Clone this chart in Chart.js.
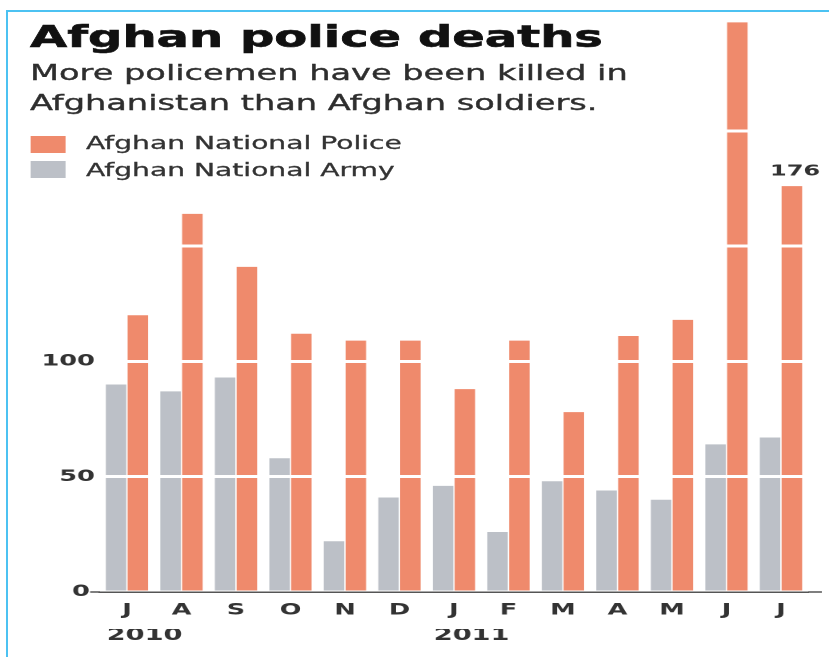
<!DOCTYPE html>
<html>
<head>
<meta charset="utf-8">
<script src="https://cdn.jsdelivr.net/npm/chart.js@4"></script>
<style>
  html, body { margin: 0; padding: 0; background: #fff; }
  body { width: 829px; height: 657px; overflow: hidden; position: relative; font-family: "DejaVu Sans", sans-serif; }
  #wrap { position: absolute; left: 0; top: 0; width: 518px; height: 657px; transform: scaleX(1.6004); transform-origin: 0 0; }
  #c { position: absolute; left: 0; top: 0; }
  .t { position: absolute; white-space: nowrap; }
  #title { left: 18.75px; top: 21.5px; font-size: 30px; line-height: 30px; font-weight: bold; color: #111; -webkit-text-stroke: 0.6px #111; }
  #sub { left: 18.75px; top: 57.7px; font-size: 21px; line-height: 30px; color: #2e2e2e; -webkit-text-stroke: 0.35px #2e2e2e; }
  .sw { position: absolute; left: 18.75px; width: 21.9px; height: 17px; }
  .lg { position: absolute; left: 53.75px; font-size: 17.6px; line-height: 20px; color: #333; -webkit-text-stroke: 0.3px #333; }
  #bt { position: absolute; left: 7px; top: 10px; width: 822px; height: 2px; background: #4cc2f2; }
  #bl { position: absolute; left: 6px; top: 10px; width: 2px; height: 647px; background: #4cc2f2; }
</style>
</head>
<body>
<div id="bt"></div>
<div id="bl"></div>
<div id="wrap">
  <canvas id="c" width="518" height="657"></canvas>
  <div class="t" id="title">Afghan police deaths</div>
  <div class="t" id="sub">More policemen have been killed in<br>Afghanistan than Afghan soldiers.</div>
  <div class="sw" style="top:136px;background:#ef8a6c"></div>
  <div class="lg" style="top:133px">Afghan National Police</div>
  <div class="sw" style="top:161px;background:#bcc0c7"></div>
  <div class="lg" style="top:160px">Afghan National Army</div>
</div>
<script>
const months = ['J','A','S','O','N','D','J','F','M','A','M','J','J'];
const years = ['2010','','','','','','2011','','','','','',''];
const police = [120, 164, 141, 112, 109, 109, 88, 109, 78, 111, 118, 247, 176];
const army = [90, 87, 93, 58, 22, 41, 46, 26, 48, 44, 40, 64, 67];
const yTicksShown = [0, 50, 100];

const POLICE_COLOR = '#ef8a6c';
const ARMY_COLOR = '#bcc0c7';
const AXIS_COLOR = '#555555';

const extras = {
  id: 'extras',
  afterDraw(chart) {
    const ctx = chart.ctx;
    const a = chart.chartArea;
    ctx.save();
    ctx.strokeStyle = AXIS_COLOR;
    ctx.lineWidth = 1.5;
    ctx.beginPath();
    ctx.moveTo(a.right, a.bottom);
    ctx.lineTo(chart.width - 4.5, a.bottom);
    ctx.stroke();
    const meta = chart.getDatasetMeta(1);
    const i = police.length - 1;
    const bar = meta.data[i];
    ctx.fillStyle = '#333';
    ctx.font = 'bold 15px "DejaVu Sans"';
    ctx.textAlign = 'center';
    ctx.textBaseline = 'bottom';
    ctx.fillText(String(police[i]), bar.x + 2, bar.y - 7);
    ctx.restore();
  }
};

new Chart(document.getElementById('c'), {
  type: 'bar',
  data: {
    labels: months,
    datasets: [
      { label: 'Afghan National Army', data: army, backgroundColor: ARMY_COLOR, borderWidth: 0 },
      { label: 'Afghan National Police', data: police, backgroundColor: POLICE_COLOR, borderWidth: 0 }
    ]
  },
  options: {
    responsive: false,
    animation: false,
    devicePixelRatio: 2,
    layout: { padding: { left: 0, right: 13, top: 15.5, bottom: 15 } },
    datasets: { bar: { categoryPercentage: 0.8, barPercentage: 0.94 } },
    plugins: { legend: { display: false }, tooltip: { enabled: false }, title: { display: false } },
    scales: {
      x: {
        type: 'category',
        offset: true,
        weight: 0,
        grid: { display: false, drawTicks: false },
        border: { display: true, color: AXIS_COLOR, width: 1.5, z: 2 },
        ticks: {
          autoSkip: false, maxRotation: 0, padding: 10.5, color: '#333',
          font: { family: 'DejaVu Sans', size: 16, weight: 'bold', lineHeight: 1 }
        }
      },
      x2: {
        type: 'category',
        labels: years,
        position: 'bottom',
        offset: true,
        weight: 1,
        grid: { display: false, drawTicks: false },
        border: { display: false },
        ticks: {
          autoSkip: false, maxRotation: 0, padding: -2, labelOffset: 11, color: '#333',
          font: { family: 'DejaVu Sans', size: 17, weight: 'bold', lineHeight: 1 }
        }
      },
      y: {
        min: 0,
        max: 250,
        afterFit(scale) { scale.width = 62.3; },
        border: { display: false },
        grid: {
          z: 1,
          color: c => (c.tick && c.tick.value === 0) ? 'rgba(0,0,0,0)' : '#ffffff',
          lineWidth: 3,
          drawTicks: true,
          tickLength: 6,
          tickWidth: 1.5,
          tickColor: c => (c.tick && c.tick.value === 0) ? AXIS_COLOR : 'rgba(0,0,0,0)'
        },
        ticks: {
          stepSize: 50,
          padding: -3,
          color: '#333',
          font: { family: 'DejaVu Sans', size: 16, weight: 'bold' },
          callback: v => yTicksShown.includes(v) ? (v === 0 ? '0\u2009' : String(v)) : ''
        }
      }
    }
  },
  plugins: [extras]
});
</script>
</body>
</html>
